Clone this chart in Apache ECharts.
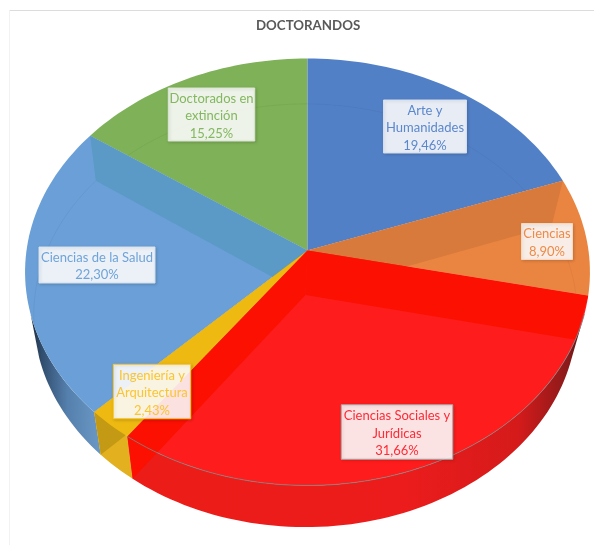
<!DOCTYPE html>
<html>
<head>
<meta charset="utf-8">
<title>Doctorandos</title>
<style>
  html, body { margin: 0; padding: 0; background: #fff; }
  #chart { width: 594px; height: 545px; }
</style>
<script src="https://cdn.jsdelivr.net/npm/echarts@6/dist/echarts.min.js"></script>
</head>
<body>
<div id="chart"></div>
<script>
  // datos
  const categories = ['Arte y\nHumanidades', 'Ciencias', 'Ciencias Sociales y\nJurídicas', 'Ingeniería y\nArquitectura', 'Ciencias de la Salud', 'Doctorados en\nextinción']
  const percents = [19.46, 8.90, 31.66, 2.43, 22.30, 15.25]

  // colores por porcion
  const topColors = ['#5280c7', '#ea8541', '#ff1c1c', '#eeb911', '#6a9fd7', '#7eb158']
  const bandColors = ['#5280c7', '#d87a3c', '#fb1002', '#c49a14', '#5b99c6', '#7eb158']
  const textColors = ['#5b87cd', '#ee8a48', '#ff2a36', '#fbc531', '#6fa3da', '#84b760']
  const boxBorders = ['#d3deef', '#f8d8c0', '#a8a8a8', '#f7c325', '#d4e3f3', '#dce8d2']
  // orden de pintado (el rojo tapa lo que sobra de las bandas)
  const paintRank = [2, 3, 5, 4, 1, 0]

  // proyeccion del disco superior e inferior
  const topDisc = { cx: 307.5, cy: 250.5, rx: 281, ry: 211.3, k: 0.1007 }
  const bottomDisc = { cx: 305.5, cy: 295, rx: 270.5, ry: 209.6, k: 0.097 }
  const wallFrom = 107
  const wallTo = 253
  const labelCenters = [[425, 126.5], [547, 241.5], [397, 432], [152, 391.5], [97, 265], [211.5, 114.5]]
  const labelSizes = [[83, 53], [51, 36], [111.5, 54.5], [77.5, 54.5], [116, 36], [86.5, 53]]

  function project(disc, deg) {
    const a = deg * Math.PI / 180
    const X = Math.sin(a)
    const Y = -Math.cos(a)
    const d = 1 - disc.k * Y
    return [disc.cx + disc.rx * X / d, disc.cy + disc.ry * Y / d]
  }

  function arc(disc, from, to) {
    const pts = []
    const steps = Math.max(2, Math.ceil((to - from) / 1.5))
    for (let i = 0; i <= steps; i++) {
      pts.push(project(disc, from + (to - from) * i / steps))
    }
    return pts
  }

  function sliceAngles(index) {
    let sum = 0
    for (let i = 0; i < index; i++) sum += percents[i]
    return [sum * 3.6, (sum + percents[index]) * 3.6]
  }

  function band(deg) {
    return [[topDisc.cx, topDisc.cy], project(topDisc, deg), project(bottomDisc, deg), [bottomDisc.cx, bottomDisc.cy]]
  }

  function wallFill(index) {
    if (index === 2) {
      return new echarts.graphic.LinearGradient(130, 0, 587, 0, [
        { offset: 0, color: '#ec1c18' },
        { offset: 0.6, color: '#ec1c1c' },
        { offset: 0.85, color: '#d51a1a' },
        { offset: 0.96, color: '#8a1a1a' },
        { offset: 1, color: '#3a1414' }
      ], true)
    }
    if (index === 4) {
      return new echarts.graphic.LinearGradient(30, 0, 105, 0, [
        { offset: 0, color: '#1b2b3d' },
        { offset: 0.15, color: '#2f4c6c' },
        { offset: 0.5, color: '#5580ad' },
        { offset: 1, color: '#6d9bc8' }
      ], true)
    }
    return '#e3b020'
  }

  function renderSlice(params, api) {
    const i = api.value(0)
    const [a0, a1] = sliceAngles(i)
    const z = paintRank[i] * 10
    const children = []
    const topPts = [[topDisc.cx, topDisc.cy]].concat(arc(topDisc, a0, a1))

    const w0 = Math.max(a0, wallFrom)
    const w1 = Math.min(a1, wallTo)
    if (w1 > w0) {
      children.push({
        type: 'polygon',
        z2: z,
        shape: { points: arc(topDisc, w0, w1).concat(arc(bottomDisc, w0, w1).reverse()) },
        style: { fill: wallFill(i) }
      })
    }

    const bands = []
    if (i === 1) bands.push(a0)
    if (i === 2) bands.push(a0, a1)
    if (i === 3) bands.push(a1)
    if (i === 4) bands.push(a1)
    // en el amarillo la banda solo se ve en la pared
    const bandZ = i === 3 ? z + 1 : z + 3
    bands.forEach(function(deg) {
      children.push({ type: 'polygon', z2: bandZ, shape: { points: band(deg) }, style: { fill: bandColors[i] } })
    })

    children.push({
      type: 'polygon',
      z2: z + 2,
      shape: { points: topPts },
      style: { fill: topColors[i] }
    })

    // borde del disco inferior que se ve a traves de la cara
    if (i !== 2 && i !== 3) {
      children.push({
        type: 'polyline',
        z2: z + 4,
        shape: { points: arc(bottomDisc, a0, a1) },
        style: { fill: 'none', stroke: 'rgba(0,0,0,0.045)', lineWidth: 1 }
      })
    }
    if (i === 2) {
      children.push({
        type: 'polyline',
        z2: z + 5,
        shape: { points: arc(topDisc, w0, a1) },
        style: { fill: 'none', stroke: 'rgba(130,130,130,0.85)', lineWidth: 1 }
      })
    }
    return { type: 'group', children: children }
  }

  function renderLabel(params, api) {
    const i = api.value(0)
    const [cx, cy] = labelCenters[i]
    const [w, h] = labelSizes[i]
    const text = categories[i] + '\n' + percents[i].toFixed(2).replace('.', ',') + '%'
    return {
      type: 'group',
      children: [{
        type: 'rect',
        z2: 100,
        shape: { x: cx - w / 2, y: cy - h / 2, width: w, height: h },
        style: {
          fill: 'rgba(255,255,255,0.88)',
          stroke: boxBorders[i],
          lineWidth: 1,
          shadowColor: 'rgba(0,0,0,0.16)',
          shadowBlur: 3,
          shadowOffsetX: 1,
          shadowOffsetY: 1
        }
      }, {
        type: 'text',
        z2: 101,
        style: {
          x: cx,
          y: cy + 1.5,
          text: text,
          fill: textColors[i],
          font: '13px Lato',
          lineHeight: 17.5,
          align: 'center',
          verticalAlign: 'middle'
        }
      }]
    }
  }

  const seriesData = categories.map(function(name, i) {
    return { name: name, value: [i, percents[i]] }
  })

  const chart = echarts.init(document.getElementById('chart'), null, { renderer: 'canvas' })
  chart.setOption({
    animation: false,
    backgroundColor: '#fff',
    title: {
      text: 'DOCTORANDOS',
      left: 256,
      top: 19,
      padding: 0,
      textStyle: { color: '#595959', fontFamily: 'Lato', fontWeight: 'bold', fontSize: 13.3 }
    },
    graphic: [
      { type: 'line', silent: true, shape: { x1: 9.5, y1: 10.5, x2: 594, y2: 10.5 }, style: { stroke: '#dcdcdc', lineWidth: 1 } },
      { type: 'line', silent: true, shape: { x1: 9.5, y1: 10.5, x2: 9.5, y2: 545 }, style: { stroke: '#f2f2f2', lineWidth: 1 } }
    ],
    series: [
      { type: 'custom', coordinateSystem: 'none', silent: true, data: seriesData, renderItem: renderSlice },
      { type: 'custom', coordinateSystem: 'none', silent: true, z: 3, data: seriesData, renderItem: renderLabel }
    ]
  })
</script>
</body>
</html>
